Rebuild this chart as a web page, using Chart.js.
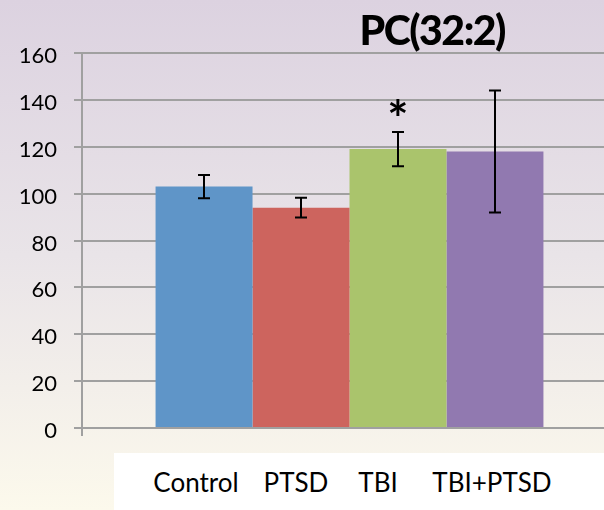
<!DOCTYPE html>
<html>
<head>
<meta charset="utf-8">
<script src="https://cdn.jsdelivr.net/npm/chart.js@4"></script>
<style>
  html, body { margin: 0; padding: 0; }
  body {
    width: 604px; height: 510px; overflow: hidden; position: relative;
    background: linear-gradient(to bottom, #dcd2e0 0%, #e9e4e8 50%, #fcf9ec 100%);
    font-family: Lato, "Open Sans", sans-serif;
  }
  #wrap { position: absolute; left: 0; top: 0; width: 617px; height: 510px; }
  #title {
    position: absolute; right: 99px; top: 9px;
    font: 900 41px/1 Lato, sans-serif; color: #000; white-space: nowrap;
    letter-spacing: -1.5px;
  }
  #labelBox {
    position: absolute; left: 114px; top: 453px; right: 0; bottom: 0; background: #fff;
  }
  .lab {
    position: absolute; top: 16px; transform: translateX(-50%);
    font: 26px/1 Lato, sans-serif; color: #000; white-space: nowrap;
  }
</style>
</head>
<body>
<div id="wrap"><canvas id="chart" width="617" height="510"></canvas></div>
<div id="title">PC(32:2)</div>
<div id="labelBox"></div>
<script>
// PC(32:2) levels by group (mean ± error)
const groups = ['Control', 'PTSD', 'TBI', 'TBI+PTSD'];
const means = [103, 94, 119, 118];
const errors = [5, 4.2, 7.3, 26];
const marks = ['', '', '*', ''];
const barColors = ['#5f95c8', '#cd645e', '#aac46c', '#9179b0'];
const yTicks = [0, 20, 40, 60, 80, 100, 120, 140, 160];
// horizontal centres of the group names in the label strip below the axis
const labelCenters = [82, 182, 264, 378];

const gridColor = '#a0a0a0';

// group names under the chart
const box = document.getElementById('labelBox');
groups.forEach((g, i) => {
  const s = document.createElement('span');
  s.className = 'lab';
  s.textContent = g;
  s.style.left = labelCenters[i] + 'px';
  box.appendChild(s);
});

const errorBars = {
  id: 'errorBars',
  afterDatasetsDraw(chart) {
    const { ctx, scales: { y } } = chart;
    ctx.save();
    ctx.strokeStyle = '#000';
    ctx.fillStyle = '#000';
    ctx.lineWidth = 2;
    groups.forEach((g, i) => {
      const bar = chart.getDatasetMeta(i).data[0];
      const x = Math.round(bar.x);
      const top = y.getPixelForValue(means[i] + errors[i]);
      const bot = y.getPixelForValue(means[i] - errors[i]);
      ctx.beginPath();
      ctx.moveTo(x, top); ctx.lineTo(x, bot);
      ctx.moveTo(x - 6, top); ctx.lineTo(x + 6, top);
      ctx.moveTo(x - 6, bot); ctx.lineTo(x + 6, bot);
      ctx.stroke();
      if (marks[i]) {
        ctx.font = 'bold 50px Lato, sans-serif';
        ctx.textAlign = 'center';
        ctx.textBaseline = 'alphabetic';
        const m = ctx.measureText(marks[i]);
        const cy = top - 24;
        ctx.fillText(marks[i], x, cy + (m.actualBoundingBoxAscent - m.actualBoundingBoxDescent) / 2);
      }
    });
    ctx.restore();
  }
};

new Chart(document.getElementById('chart'), {
  type: 'bar',
  data: {
    labels: [''],
    datasets: groups.map((g, i) => ({
      label: g,
      data: [means[i]],
      backgroundColor: barColors[i],
      borderWidth: 0
    }))
  },
  options: {
    responsive: false,
    animation: false,
    devicePixelRatio: 1,
    categoryPercentage: 0.725,
    barPercentage: 1,
    layout: { padding: { top: 53, bottom: 72, left: 0, right: 0 } },
    plugins: {
      legend: { display: false },
      tooltip: { enabled: false },
      title: { display: false }
    },
    scales: {
      x: {
        ticks: { display: false },
        grid: {
          display: true, drawOnChartArea: false, drawTicks: true,
          tickLength: 8, color: gridColor, lineWidth: 2, offset: true
        },
        border: { display: true, color: gridColor, width: 2 },
        afterFit(scale) { scale.height = 10; }
      },
      y: {
        min: 0, max: 160,
        afterBuildTicks(scale) { scale.ticks = yTicks.map(v => ({ value: v })); },
        ticks: {
          color: '#000', padding: 17, labelOffset: 3,
          font: { family: 'Lato', size: 22 }
        },
        grid: { color: gridColor, lineWidth: 2, tickLength: 8, drawTicks: true },
        border: { display: true, color: gridColor, width: 2 },
        afterFit(scale) { scale.width = 82; }
      }
    }
  },
  plugins: [errorBars]
});
</script>
</body>
</html>
